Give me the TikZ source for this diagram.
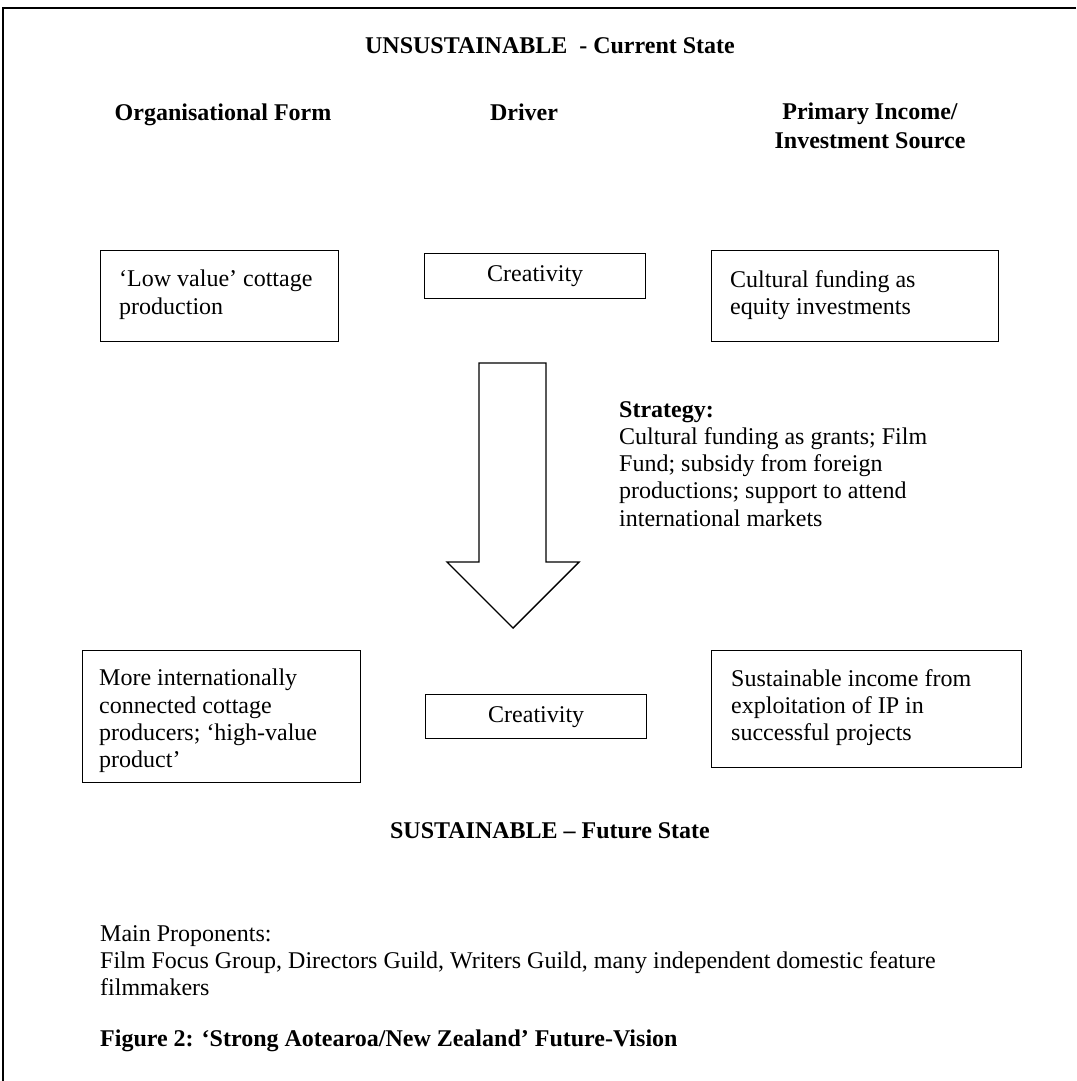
\documentclass[tikz,border=0pt]{standalone}
\usepackage{fontspec}
\setmainfont{Liberation Serif}
\begin{document}
\begin{tikzpicture}[x=1pt,y=-1pt,
  txt/.style={font=\fontsize{24}{27.3}\selectfont, inner sep=0pt, align=left},
  hd/.style={font=\fontsize{24}{29}\selectfont\bfseries, inner sep=0pt, align=center},
  box/.style={draw, line width=1.4pt, inner sep=0pt},
  frame/.style={line width=1.5pt}]
\useasboundingbox (0,0) rectangle (1076,1081);
% frame
\coordinate (fr1) at (1076,8);
\coordinate (fr2) at (3,8);
\coordinate (fr3) at (3,1081);
\draw[frame] (fr1) -- (fr2) -- (fr3);
% headings
\node[hd, anchor=base] (title) at (550,54) {UNSUSTAINABLE\ \ - Current State};
\node[hd, anchor=base] (h1) at (223,120) {Organisational Form};
\node[hd, anchor=base] (h2) at (524,120) {Driver};
\node[hd, anchor=north] (h3) at (870,103) {Primary Income/\\Investment Source};
% top boxes
\node[box, minimum width=238, minimum height=91, anchor=north west] (b1) at (100,250) {};
\node[txt, anchor=north west] (b1t) at (119,270) {`Low value' cottage\\production};
\node[box, minimum width=221, minimum height=45, anchor=north west, font=\fontsize{24}{27}\selectfont] (b2) at (424,253) {Creativity};
\node[box, minimum width=287, minimum height=91, anchor=north west] (b3) at (711,250) {};
\node[txt, anchor=north west] (b3t) at (730,270) {Cultural funding as\\equity investments};
% arrow
\draw[line width=1.4pt, fill=white] (479,363) -- (546,363) -- (546,562) -- (579,562) -- (513,628) -- (447,562) -- (479,562) -- cycle;
\node[txt, anchor=north west] (strat) at (619,401) {\textbf{Strategy:}\\Cultural funding as grants; Film\\Fund; subsidy from foreign\\productions; support to attend\\international markets};
% bottom boxes
\node[box, minimum width=278, minimum height=132, anchor=north west] (b4) at (82,650) {};
\node[txt, anchor=north west] (b4t) at (99,669) {More internationally\\connected cottage\\producers; `high-value\\product'};
\node[box, minimum width=221, minimum height=44, anchor=north west, font=\fontsize{24}{27}\selectfont] (b5) at (425,694) {Creativity};
\node[box, minimum width=310, minimum height=117, anchor=north west] (b6) at (711,650) {};
\node[txt, anchor=north west] (b6t) at (731,669) {Sustainable income from\\exploitation of IP in\\successful projects};
\node[hd, anchor=base] (title2) at (550,838) {SUSTAINABLE -- Future State};
% footer
\node[txt, anchor=north west] (prop) at (100,925) {Main Proponents:\\Film Focus Group, Directors Guild, Writers Guild, many independent domestic feature\\filmmakers};
\node[txt, font=\fontsize{24}{27}\selectfont\bfseries, anchor=base west] (fig) at (100,1046) {Figure 2: `Strong Aotearoa/New Zealand' Future-Vision};
\end{tikzpicture}
\end{document}
